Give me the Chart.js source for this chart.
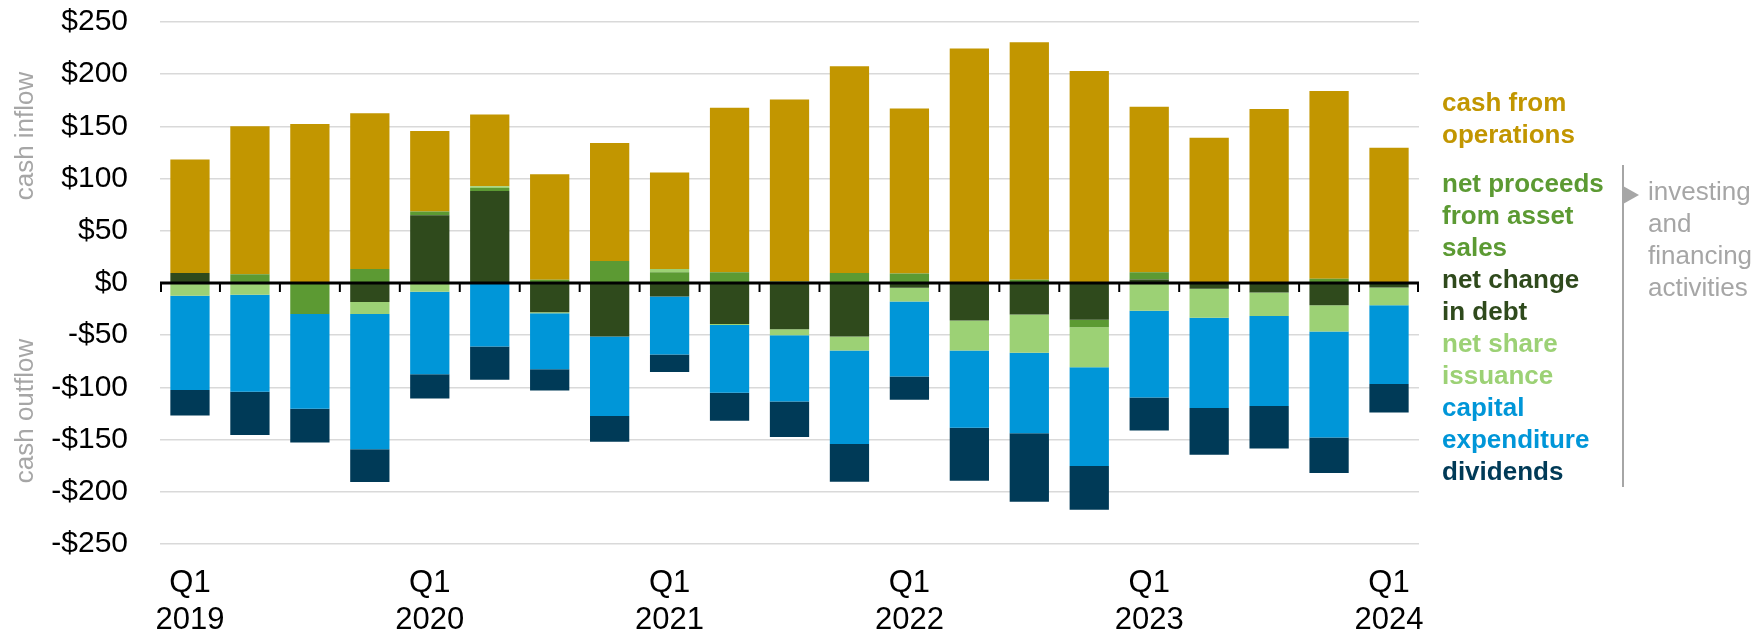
<!DOCTYPE html>
<html>
<head>
<meta charset="utf-8">
<script src="https://cdn.jsdelivr.net/npm/chart.js@4.4.1/dist/chart.umd.min.js"></script>
<style>
  html, body { margin: 0; padding: 0; background: #fff; }
  #wrap { position: relative; width: 1758px; height: 633px; overflow: hidden; font-family: "Liberation Sans", Arial, sans-serif; }
  #c { position: absolute; left: 0; top: 0; }
  .leg { position: absolute; font-weight: bold; font-size: 26px; line-height: 32px; white-space: nowrap; }
  .note { position: absolute; font-size: 26px; line-height: 32px; color: #a6a6a6; white-space: nowrap; }
  .side { position: absolute; font-size: 26px; color: #a6a6a6; white-space: nowrap; transform: translate(-50%, -50%) rotate(-90deg); }
</style>
</head>
<body>
<div id="wrap">
  <canvas id="c" width="1758" height="633"></canvas>
  <div class="side" style="left:24px; top:136px;">cash inflow</div>
  <div class="side" style="left:24px; top:411px;">cash outflow</div>
  <div class="leg" style="left:1442px; top:86px; color:#C29600;">cash from<br>operations</div>
  <div class="leg" style="left:1442px; top:167px;">
    <span style="color:#5C9A33">net proceeds<br>from asset<br>sales</span><br>
    <span style="color:#2F4A1C">net change<br>in debt</span><br>
    <span style="color:#9CD175">net share<br>issuance</span><br>
    <span style="color:#0096D8">capital<br>expenditure</span><br>
    <span style="color:#003A57">dividends</span>
  </div>
  <div style="position:absolute; left:1622px; top:165px; width:2px; height:322px; background:#a6a6a6;"></div>
  <div style="position:absolute; left:1623px; top:186px; width:0; height:0; border-top:9px solid transparent; border-bottom:9px solid transparent; border-left:16px solid #a6a6a6;"></div>
  <div class="note" style="left:1648px; top:175px;">investing<br>and<br>financing<br>activities</div>
</div>
<script>
// ---- data ----
const quarters = ['Q1 2019','Q2 2019','Q3 2019','Q4 2019','Q1 2020','Q2 2020','Q3 2020','Q4 2020',
  'Q1 2021','Q2 2021','Q3 2021','Q4 2021','Q1 2022','Q2 2022','Q3 2022','Q4 2022',
  'Q1 2023','Q2 2023','Q3 2023','Q4 2023','Q1 2024'];
const xTickLabels = [['Q1','2019'],'','','',['Q1','2020'],'','','',['Q1','2021'],'','','',
  ['Q1','2022'],'','','',['Q1','2023'],'','','',['Q1','2024']];
const yTicks = [-250,-200,-150,-100,-50,0,50,100,150,200,250];

const netChangeInDebt   = [9.5, 0, 0, -18.3, 64.9, 88.2, -28, -51.3, -13, -39.2, -44.3, -51.3, -4.5, -35.9, -30.2, -35.3, 3.3, -5.6, -9.2, -21.3, -4.3];
const assetSaleProceeds = [0, 8.4, -29.6, 13.5, 3.5, 2.9, 3, 21, 10.2, 10.2, 1.5, 9.6, 9.2, 0, 3, -7, 7, 0, 0, 4, 0];
const netShareIssuance  = [-12.2, -11.3, 1, -11.5, -8.3, 1.6, -1, 0, 3.2, -1, -5.7, -13.4, -13.2, -28.8, -36.7, -38.3, -26.7, -27.6, -22.3, -25.2, -17];
const capitalExpenditure= [-90.2, -92.9, -90.9, -129.4, -79, -60.8, -53.5, -76.2, -55.6, -65, -63.5, -89.6, -71.9, -74, -76.9, -94.8, -83, -86.6, -86.4, -101.4, -75.4];
const dividends         = [-24.6, -41.5, -32.2, -31.3, -23.3, -31.9, -20.4, -24.6, -16.6, -26.7, -34.1, -36.1, -22.3, -50.7, -65.7, -41.7, -31.5, -44.6, -40.6, -34.2, -27.4];
const cashFromOperations= [108.7, 141.7, 151.2, 149, 77.1, 68.7, 101.1, 113.2, 92.4, 157.7, 174.3, 197.9, 157.9, 224.7, 227.5, 203, 158.6, 139.1, 166.6, 180, 129.5];

const FONT = '"Liberation Sans", Arial, sans-serif';

const zeroAxis = {
  id: 'zeroAxis',
  afterDatasetsDraw(chart) {
    const { ctx, chartArea: { left, right }, scales: { y } } = chart;
    const y0 = y.getPixelForValue(0);
    const n = chart.data.labels.length;
    const step = (right - left) / n;
    ctx.save();
    ctx.strokeStyle = '#000';
    ctx.lineWidth = 3;
    ctx.beginPath(); ctx.moveTo(left, y0); ctx.lineTo(right, y0); ctx.stroke();
    ctx.lineWidth = 2;
    for (let i = 0; i <= n; i++) {
      let xx = left + i * step;
      if (i === 0) xx += 1; if (i === n) xx -= 1;
      ctx.beginPath(); ctx.moveTo(xx, y0); ctx.lineTo(xx, y0 + 9); ctx.stroke();
    }
    ctx.restore();
  }
};

const mk = (label, data, color) => ({ label, data, backgroundColor: color, borderWidth: 0,
  categoryPercentage: 1.0, barPercentage: 0.655 });

new Chart(document.getElementById('c'), {
  type: 'bar',
  data: {
    labels: quarters,
    datasets: [
      mk('net change in debt', netChangeInDebt, '#2F4A1C'),
      mk('net proceeds from asset sales', assetSaleProceeds, '#5C9A33'),
      mk('net share issuance', netShareIssuance, '#9CD175'),
      mk('capital expenditure', capitalExpenditure, '#0096D8'),
      mk('dividends', dividends, '#003A57'),
      mk('cash from operations', cashFromOperations, '#C29600')
    ]
  },
  options: {
    responsive: false,
    animation: false,
    devicePixelRatio: 1,
    layout: { padding: { left: 0, right: 339, top: 22, bottom: 0 } },
    plugins: { legend: { display: false }, tooltip: { enabled: false } },
    scales: {
      x: {
        stacked: true,
        grid: { display: false, drawTicks: false },
        border: { display: false },
        ticks: {
          autoSkip: false, maxRotation: 0, minRotation: 0, padding: 21,
          color: '#000', font: { family: FONT, size: 31, lineHeight: 1.2 },
          callback: (v, i) => xTickLabels[i]
        },
        afterFit: (s) => { s.height = 89; s.paddingLeft = 0; s.paddingRight = 0; }
      },
      y: {
        stacked: true,
        min: -250, max: 250,
        afterBuildTicks: (s) => { s.ticks = yTicks.map(v => ({ value: v })); },
        grid: { color: '#d9d9d9', lineWidth: 1.5, drawTicks: false },
        border: { display: false },
        ticks: {
          padding: 32, color: '#000', font: { family: FONT, size: 30 },
          callback: (v) => (v < 0 ? '-$' + Math.abs(v) : '$' + v)
        },
        afterFit: (s) => { s.width = 160; s.paddingTop = 0; s.paddingBottom = 0; }
      }
    }
  },
  plugins: [zeroAxis]
});
</script>
</body>
</html>
